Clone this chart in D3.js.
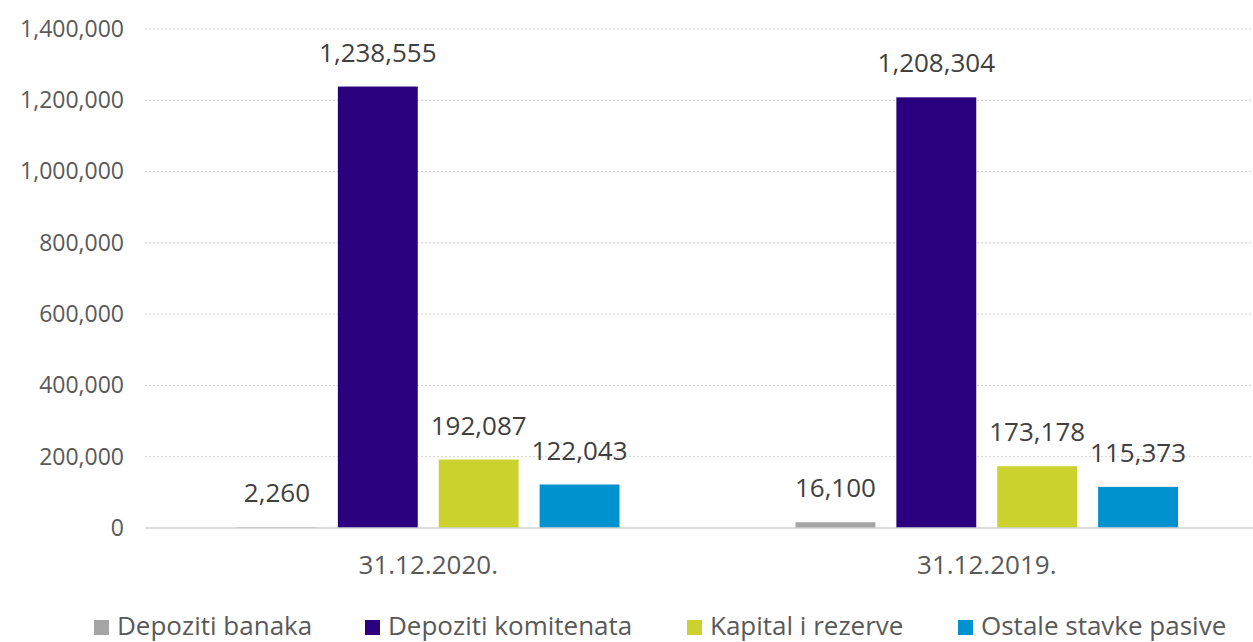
<!DOCTYPE html>
<html><head><meta charset="utf-8">
<script src="https://cdn.jsdelivr.net/npm/d3@7"></script>
<style>body{margin:0;background:#fff}svg{display:block}text{font-family:"Open Sans",sans-serif}</style>
</head><body><svg id="c" width="1253" height="642"></svg>
<script>
const categories = ["31.12.2020.", "31.12.2019."];
const seriesNames = ["Depoziti banaka", "Depoziti komitenata", "Kapital i rezerve", "Ostale stavke pasive"];
const depozitiBanaka = [2260, 16100];
const depozitiKomitenata = [1238555, 1208304];
const kapitalRezerve = [192087, 173178];
const ostaleStavke = [122043, 115373];
const yTicks = [0, 200000, 400000, 600000, 800000, 1000000, 1200000, 1400000];
const colors = ["#a5a5a5", "#2a007f", "#ccd22d", "#0092cf"];

const series = [depozitiBanaka, depozitiKomitenata, kapitalRezerve, ostaleStavke];
const svg = d3.select("#c");
const y = d3.scaleLinear().domain([0, 1400000]).range([528, 29]);
const x0 = d3.scaleBand().domain(categories).range([149, 1266]).paddingInner(0).paddingOuter(0);
const x1 = d3.scaleBand().domain(seriesNames).range([88, 558.5 - 88]).paddingInner(21 / 101).paddingOuter(0);
const fmt = d3.format(",");
const FONT = "'Open Sans',sans-serif";

// gridlines
svg.append("g").selectAll("line").data(yTicks.filter(d => d > 0)).join("line")
  .attr("x1", 145).attr("x2", 1253).attr("y1", d => y(d)).attr("y2", d => y(d))
  .attr("stroke", "#d0d0d0").attr("stroke-width", 1).attr("stroke-dasharray", "2,2");

// y axis labels
const yAxis = d3.axisLeft(y).tickValues(yTicks).tickFormat(fmt).tickSize(0).tickPadding(0);
const ga = svg.append("g").attr("transform", "translate(124,0)").call(yAxis);
ga.select(".domain").remove();
ga.selectAll("text").attr("font-size", 23).attr("fill", "#595959").style("font-family", FONT);

// bars
const groups = svg.append("g").selectAll("g").data(categories).join("g")
  .attr("transform", d => `translate(${x0(d)},0)`);
const rows = (c, ci) => seriesNames.map((s, si) => ({ s, si, v: series[si][ci] }));
groups.selectAll("rect").data(rows).join("rect")
  .attr("x", d => x1(d.s)).attr("width", x1.bandwidth())
  .attr("y", d => y(d.v)).attr("height", d => y(0) - y(d.v))
  .attr("fill", d => colors[d.si]);
groups.selectAll("text.v").data(rows).join("text")
  .attr("class", "v")
  .attr("x", d => x1(d.s) + x1.bandwidth() / 2).attr("y", d => y(d.v) - 25)
  .attr("text-anchor", "middle").attr("font-size", 26).attr("fill", "#404040")
  .text(d => fmt(d.v));

// baseline
svg.append("line").attr("x1", 145).attr("x2", 1253).attr("y1", y(0)).attr("y2", y(0))
  .attr("stroke", "#d0d0d0").attr("stroke-width", 1.5);

// x axis labels
const xAxis = d3.axisBottom(x0).tickSize(0).tickPadding(0);
const gx = svg.append("g").attr("transform", "translate(0,556)").call(xAxis);
gx.select(".domain").remove();
gx.selectAll("text").attr("font-size", 26).attr("fill", "#595959").style("font-family", FONT);

// legend
const legendX = [94, 365, 687, 958];
const lg = svg.append("g").selectAll("g").data(seriesNames).join("g")
  .attr("transform", (d, i) => `translate(${legendX[i]},0)`);
lg.append("rect").attr("x", 0).attr("y", 620).attr("width", 15).attr("height", 15).attr("fill", (d, i) => colors[i]);
lg.append("text").attr("x", 23).attr("y", 635).attr("font-size", 26).attr("fill", "#595959").text(d => d);
</script></body></html>
